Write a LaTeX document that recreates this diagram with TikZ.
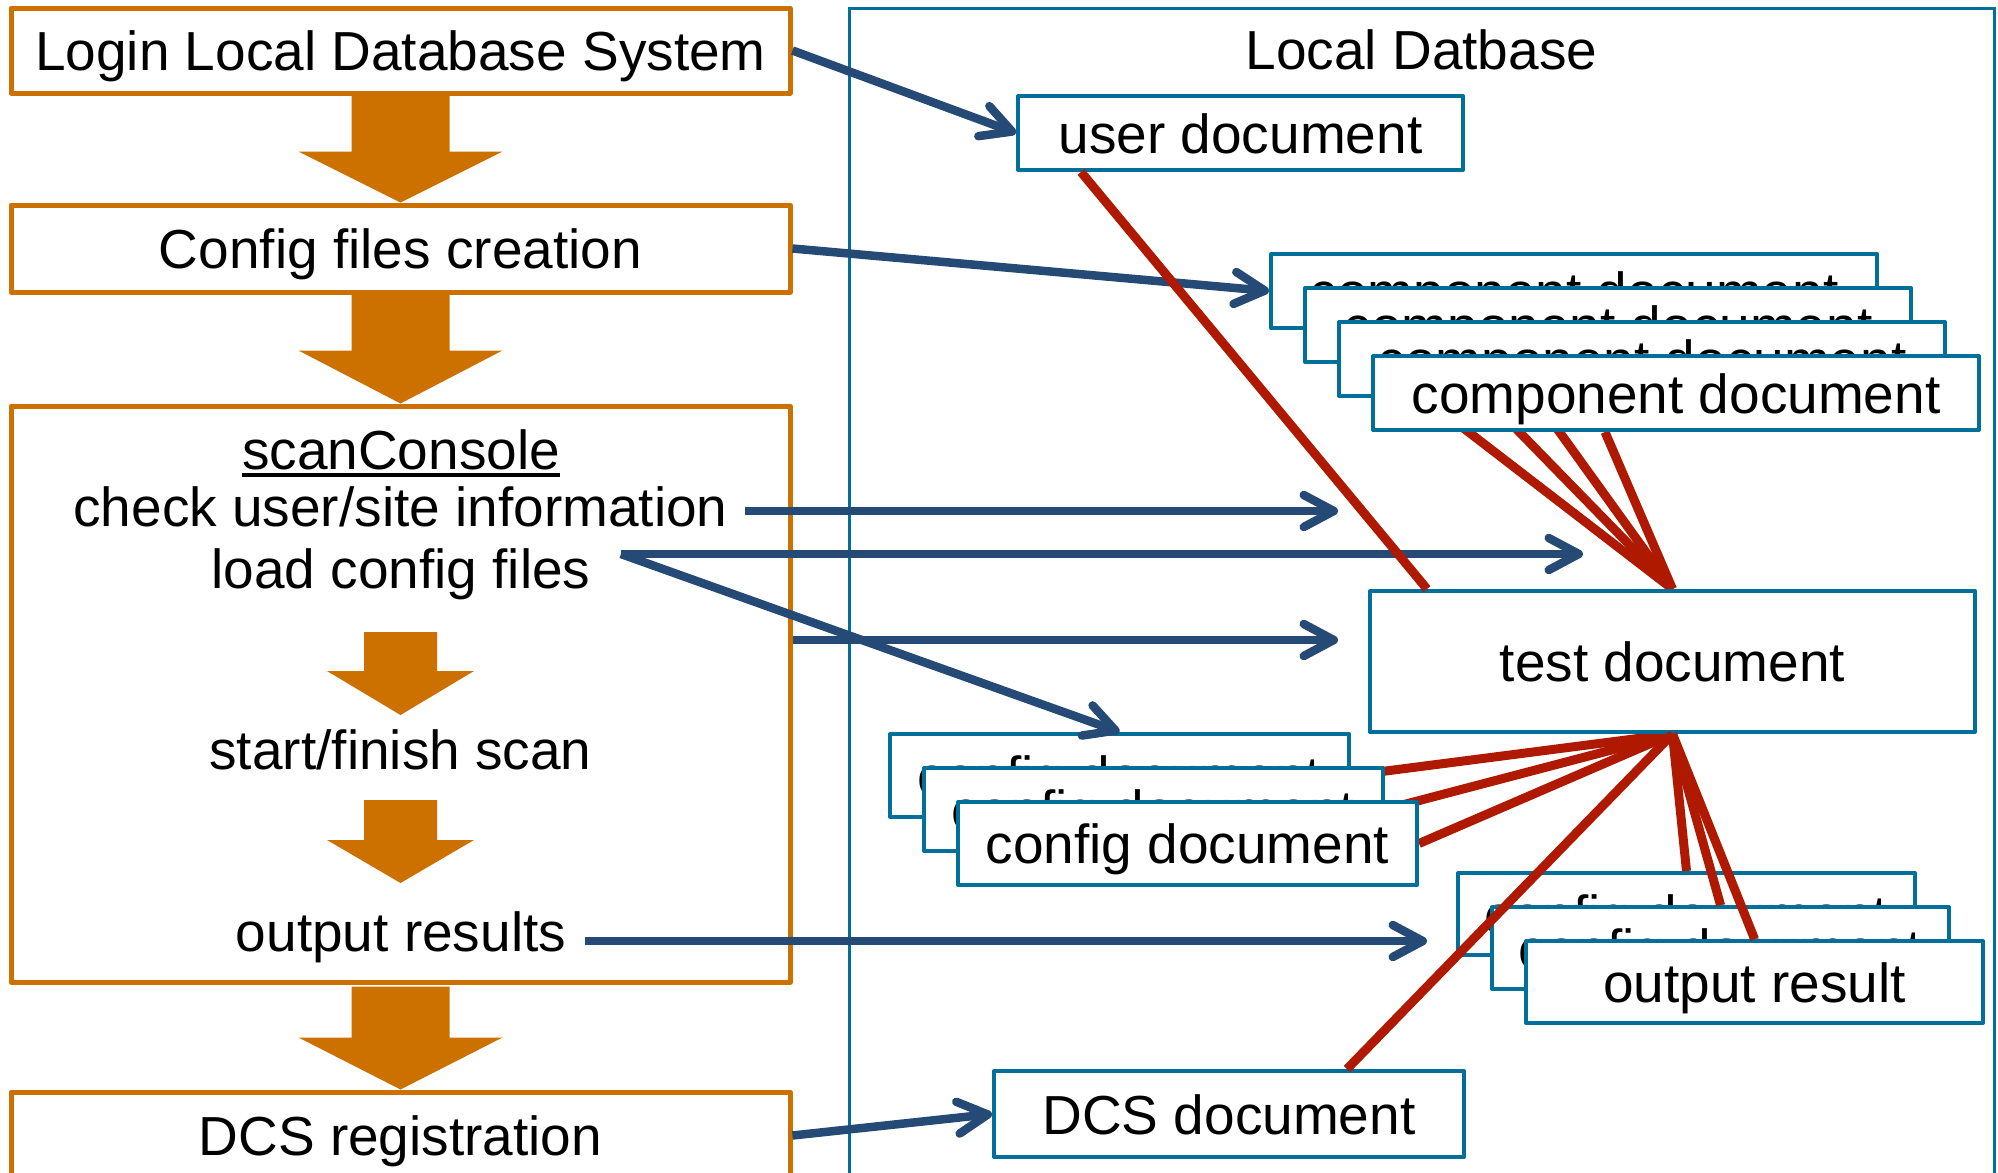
\documentclass[tikz,border=0pt]{standalone}
\usepackage{fontspec}
\setmainfont{Liberation Sans}
\usetikzlibrary{arrows.meta,calc}
\definecolor{orng}{RGB}{204,112,0}
\definecolor{boxblue}{RGB}{0,112,154}
\definecolor{arrblue}{RGB}{36,74,117}
\definecolor{lnred}{RGB}{174,25,0}
\begin{document}
\begin{tikzpicture}[x=0.5pt,y=-0.5pt,
  every node/.style={font=\fontsize{27.5}{33}\selectfont},
  txt/.style={inner sep=0pt, anchor=base},
  stepbox/.style={draw=orng, line width=2.5pt, line join=round, fill=white, minimum width=389.5pt, inner sep=0pt, text height=23pt, text depth=3pt},
  docbox/.style={draw=boxblue, line width=2pt, line join=round, fill=white, inner sep=0pt, text height=23pt, text depth=3pt},
  compbox/.style={docbox, minimum width=303pt, minimum height=37pt},
  cfgbox/.style={docbox, minimum width=229.5pt, minimum height=41.5pt},
  outbox/.style={docbox, minimum width=228.5pt, minimum height=41pt},
  bluearr/.style={draw=arrblue, line width=4.25pt, -{Straight Barb[round,length=15pt,width=16pt]}},
  redln/.style={draw=lnred, line width=4.5pt},
]
\useasboundingbox (0,0) rectangle (1998,1173);
\clip (0,0) rectangle (1998,1173);

% container
\node[draw=boxblue, line width=1.5pt, minimum width=572.5pt, minimum height=591pt, inner sep=0pt] (ldb) at (1421.5,599) {};
\node[txt] (ldbtitle) at (1421.5,69) {Local Datbase};

% left flow
\node[stepbox, minimum height=42.5pt] (login) at (400.5,50.5) {Login Local Database System};
\node[stepbox, minimum height=43.5pt] (cfgc) at (400.5,248.5) {Config files creation};
\node[stepbox, minimum height=288pt] (scan) at (400.5,694) {};
\node[stepbox, minimum height=43.5pt] (dcsreg) at (400.5,1135.5) {DCS registration};

\fill[orng] ($(login.south)+(-49,0)$) -- ($(login.south)+(-49,56)$) -- ($(login.south)+(-102,56)$) -- (cfgc.north) -- ($(login.south)+(102,56)$) -- ($(login.south)+(49,56)$) -- ($(login.south)+(49,0)$) -- cycle;
\fill[orng] ($(cfgc.south)+(-49,0)$) -- ($(cfgc.south)+(-49,56)$) -- ($(cfgc.south)+(-102,56)$) -- (scan.north) -- ($(cfgc.south)+(102,56)$) -- ($(cfgc.south)+(49,56)$) -- ($(cfgc.south)+(49,0)$) -- cycle;
\fill[orng] ($(scan.south)+(-49,2)$) -- ($(scan.south)+(-49,53)$) -- ($(scan.south)+(-102,53)$) -- (dcsreg.north) -- ($(scan.south)+(102,53)$) -- ($(scan.south)+(49,53)$) -- ($(scan.south)+(49,2)$) -- cycle;

\node[txt] (sct) at (401,469) {scanConsole};
\draw[line width=2pt] ($(sct.base west)+(0,6)$) -- ($(sct.base east)+(0,6)$);
\node[txt] (check) at (400.5,526) {check user/site information};
\node[txt] (load) at (401,588) {load config files};
\node[txt] (start) at (400.5,769) {start/finish scan};
\node[txt] (outres) at (401,951) {output results};

\fill[orng] (364,632) -- (437,632) -- (437,671) -- (474,671) -- (400.5,715) -- (327,671) -- (364,671) -- cycle;
\fill[orng] (364,800) -- (437,800) -- (437,840) -- (474,840) -- (400.5,883) -- (327,840) -- (364,840) -- cycle;

% free arrow ends
\coordinate (e1) at (1338,511);
\coordinate (e2) at (1583,554);
\coordinate (e3) at (1338,640);
\coordinate (e4) at (1427,941);

% document node placeholders (for anchors)
\path (1240.5,133) node[docbox, minimum width=222.5pt, minimum height=37pt, draw=none, fill=none] (ud) {}
      (1672.5,661.5) node[docbox, minimum width=302.5pt, minimum height=70.5pt, draw=none, fill=none] (test) {}
      (1574,291) node[compbox,draw=none,fill=none] (comp1) {}
      (1608,325) node[compbox,draw=none,fill=none] (comp2) {}
      (1642,359) node[compbox,draw=none,fill=none] (comp3) {}
      (1676,393) node[compbox,draw=none,fill=none] (comp4) {}
      (1119.5,775.5) node[cfgbox,draw=none,fill=none] (cfg1) {}
      (1153.5,809.5) node[cfgbox,draw=none,fill=none] (cfg2) {}
      (1187.5,843.5) node[cfgbox,draw=none,fill=none] (cfg3) {}
      (1686.5,914) node[outbox,draw=none,fill=none] (out1) {}
      (1720.5,948) node[outbox,draw=none,fill=none] (out2) {}
      (1754.5,982) node[outbox,draw=none,fill=none] (out3) {}
      (1229,1114) node[docbox, minimum width=235pt, minimum height=43pt, draw=none, fill=none] (dcs) {};

% red lines under the boxes
\draw[redln] ($(comp1.south west)+(67,0)$) -- (test.north);
\draw[redln] ($(comp2.south west)+(150,0)$) -- (test.north);
\draw[redln] ($(comp3.south west)+(198,0)$) -- (test.north);
\draw[redln] ($(comp4.south west)+(234,0)$) -- (test.north);
\draw[redln] (test.south) -- (cfg1.east);
\draw[redln] (test.south) -- (cfg2.east);
\draw[redln] (test.south) -- (cfg3.east);

% document boxes
\node[docbox, minimum width=222.5pt, minimum height=37pt] at (ud) {user document};
\node[docbox, minimum width=302.5pt, minimum height=70.5pt] at (test) {test document};
\node[compbox] at (comp1) {component document};
\node[compbox] at (comp2) {component document};
\node[compbox] at (comp3) {component document};
\node[compbox] at (comp4) {component document};
\node[cfgbox] at (cfg1) {config document};
\node[cfgbox] at (cfg2) {config document};
\node[cfgbox] at (cfg3) {config document};
\node[outbox] at (out1) {config document};
\node[outbox] at (out2) {config document};
\node[outbox] at (out3) {output result};
\node[docbox, minimum width=235pt, minimum height=43pt] at (dcs) {DCS document};

% red lines over the boxes
\draw[redln] (test.south) -- (out1.north);
\draw[redln] (test.south) -- (out2.north);
\draw[redln] (test.south) -- (out3.north);
\draw[redln] ($(dcs.north west)+(355,0)$) -- (test.south);

% blue arrows
\draw[bluearr] (login.east) -- (ud.west);
\draw[bluearr] (cfgc.east) -- (comp1.west);
\draw[bluearr] ($(check.base east)+(17,-15)$) -- (e1);
\draw[bluearr] ($(load.base east)+(30,-34)$) -- (e2);
\draw[bluearr] ($(load.base east)+(30,-34)$) -- (cfg1.north);
\draw[bluearr] ($(scan.east)+(0,-54)$) -- (e3);
\draw[bluearr] ($(outres.base east)+(18,-10)$) -- (e4);
\draw[bluearr] (dcsreg.east) -- (dcs.west);

% user document to test document
\draw[redln] ($(ud.south west)+(65,0)$) -- ($(test.north west)+(59,0)$);
\end{tikzpicture}
\end{document}
